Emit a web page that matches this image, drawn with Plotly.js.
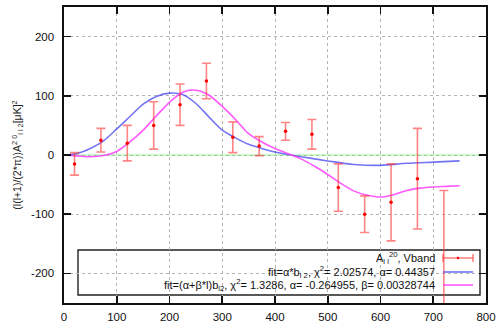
<!DOCTYPE html>
<html>
<head>
<meta charset="utf-8">
<script src="https://cdn.plot.ly/plotly-3.0.1.min.js"></script>
<style>html,body{margin:0;padding:0;background:#fff;}#chart{width:497px;height:325px;}</style>
</head>
<body>
<div id="chart"></div>
<script>
// Measured data points (A_ll^20, Vband)
var ellData = [20, 70, 120, 170, 220, 270, 320, 370, 420, 470, 520, 570, 620, 670, 720];
var valData = [-15, 25, 20, 50, 85, 125, 30, 15, 40, 35, -55, -100, -80, -40, -270];
var errData = [19, 20, 30, 40, 35, 30, 26, 16, 15, 25, 40, 31, 65, 85, 210];

// Fit 1: alpha * b_l2
var ellFit1 = [0, 25, 50, 75, 100, 125, 150, 175, 200, 225, 250, 275, 300, 325, 350, 375, 400, 450, 500, 550, 600, 650, 700, 750];
var valFit1 = [0, 2.5, 11, 24, 44, 65, 86, 99, 104.5, 102, 87, 64, 42, 29, 18, 11, 5, -3, -10, -16, -17.5, -14, -12, -10];

// Fit 2: (alpha + beta*l) b_l2
var ellFit2 = [0, 25, 50, 75, 100, 125, 150, 175, 200, 225, 250, 275, 300, 325, 350, 375, 400, 425, 450, 475, 500, 525, 550, 575, 600, 625, 650, 675, 700, 725, 750];
var valFit2 = [0, -1.5, -3, -1, 6, 22, 42, 66, 89, 106, 109.5, 101, 82, 60, 36, 22, 11, 2, -7, -19, -33, -48, -61, -68, -71, -67, -60, -56, -54, -53, -52];

// Zero reference line
var ellZero = [0, 800];
var valZero = [0, 0];

var xTicks = [0, 100, 200, 300, 400, 500, 600, 700, 800];
var yTicks = [-200, -100, 0, 100, 200];

var legendLabels = [
  'A<sub>l l</sub><sup>20</sup>, Vband',
  'fit=α*b<sub>l 2</sub>, χ<sup>2</sup>= 2.02574, α= 0.44357',
  'fit=(α+β*l)b<sub>l2</sub>, χ<sup>2</sup>= 1.3286, α= -0.264955, β= 0.00328744'
];

var red = 'rgba(255,50,50,0.6)';
var blue = 'rgba(70,70,240,0.75)';
var magenta = 'rgba(255,60,255,0.85)';

var traces = [
  {x: ellZero, y: valZero, mode: 'lines', line: {color: 'rgba(110,240,110,0.7)', width: 1}, hoverinfo: 'skip'},
  {x: ellFit1, y: valFit1, mode: 'lines', line: {color: blue, width: 1.6, shape: 'spline', smoothing: 0.8}},
  {x: ellFit2, y: valFit2, mode: 'lines', line: {color: magenta, width: 1.6, shape: 'spline', smoothing: 0.8}},
  {x: ellData, y: valData, mode: 'markers', marker: {color: 'red', size: 3.5},
   error_y: {type: 'data', array: errData, visible: true, color: red, thickness: 1.6, width: 4.5}}
];

function px2paperX(p){ return (p - 64) / 422; }
function px2paperY(p){ return (303 - p) / 296; }

var rowsY = [258, 272, 285];
var sx0 = px2paperX(443), sx1 = px2paperX(473), sxm = px2paperX(458);

var shapes = [
  {type: 'rect', xref: 'paper', yref: 'paper', x0: px2paperX(78), x1: px2paperX(480), y0: px2paperY(295), y1: px2paperY(250),
   line: {color: '#222', width: 1.4}, fillcolor: 'white', layer: 'between'},
  // red sample
  {type: 'line', xref: 'paper', yref: 'paper', x0: sx0, x1: sx1, y0: px2paperY(rowsY[0]), y1: px2paperY(rowsY[0]), line: {color: red, width: 1.6}},
  {type: 'line', xref: 'paper', yref: 'paper', x0: sx0, x1: sx0, y0: px2paperY(rowsY[0]-4), y1: px2paperY(rowsY[0]+4), line: {color: red, width: 1.6}},
  {type: 'line', xref: 'paper', yref: 'paper', x0: sx1, x1: sx1, y0: px2paperY(rowsY[0]-4), y1: px2paperY(rowsY[0]+4), line: {color: red, width: 1.6}},
  {type: 'circle', xref: 'paper', yref: 'paper', x0: px2paperX(456.8), x1: px2paperX(459.2), y0: px2paperY(rowsY[0]+1.2), y1: px2paperY(rowsY[0]-1.2), fillcolor: 'red', line: {width: 0}},
  // blue and magenta samples
  {type: 'line', xref: 'paper', yref: 'paper', x0: sx0, x1: sx1, y0: px2paperY(rowsY[1]), y1: px2paperY(rowsY[1]), line: {color: blue, width: 1.6}},
  {type: 'line', xref: 'paper', yref: 'paper', x0: sx0, x1: sx1, y0: px2paperY(rowsY[2]), y1: px2paperY(rowsY[2]), line: {color: magenta, width: 1.6}}
];

var annotations = legendLabels.map(function(t, i){
  return {xref: 'paper', yref: 'paper', x: px2paperX(437), y: px2paperY(rowsY[i]), xanchor: 'right', yanchor: 'middle',
          text: t, showarrow: false, font: {size: 11, color: '#111'}};
});

var axisCommon = {
  showline: true, linecolor: '#111', linewidth: 1.6, mirror: 'ticks',
  ticks: 'inside', ticklen: 7, tickwidth: 1.6, tickcolor: '#111',
  showgrid: true, gridcolor: '#b5b5b5', griddash: 'dot', gridwidth: 1,
  zeroline: false, tickfont: {size: 11.5, color: '#111'}
};

var layout = {
  width: 497, height: 325,
  margin: {l: 64, r: 11, t: 7, b: 22},
  paper_bgcolor: 'white', plot_bgcolor: 'white',
  font: {family: 'Liberation Sans, Arial, sans-serif', color: '#222'},
  showlegend: false,
  xaxis: Object.assign({}, axisCommon, {range: [0, 800], tickvals: xTicks, ticktext: xTicks.map(String), ticklabelstandoff: 3}),
  yaxis: Object.assign({}, axisCommon, {range: [-250, 250], tickvals: yTicks, ticktext: yTicks.map(String), ticklabelstandoff: 6,
    title: {text: '(l(l+1)/(2*π))A<sup>2 0</sup><sub>l l 2</sub>[μK]<sup>2</sup>', font: {size: 10.5, color: '#222'}, standoff: 7}}),
  shapes: shapes,
  annotations: annotations
};

Plotly.newPlot('chart', traces, layout, {staticPlot: true, displayModeBar: false});
</script>
</body>
</html>
